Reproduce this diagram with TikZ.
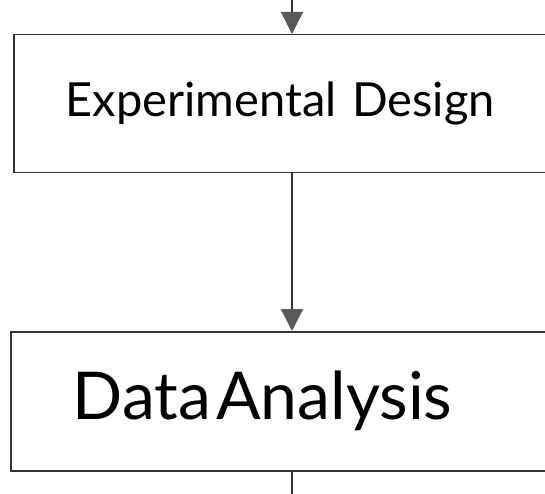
\documentclass[tikz,border=0pt]{standalone}
\usepackage{fontspec}
\setmainfont{Lato}[WordSpace=0.6]
\usepackage{tikz}
\usetikzlibrary{arrows.meta}

\tikzset{
  stagebox/.style={draw=black!80, line width=1.5pt, fill=white, anchor=north west, align=left},
  flow/.style={draw=black!80, line width=1.5pt, -{Triangle[width=22pt,length=22pt,color=black!65,fill=black!65]}}
}

\begin{document}
\begin{tikzpicture}[x=1pt,y=-1pt]
  \useasboundingbox (0,0) rectangle (545,494);
  \clip (0,0) rectangle (545,494);

  % Experimental design
  \node[stagebox, minimum height=138pt, text width=463pt, inner xsep=52pt,
        font=\fontsize{47}{52}\selectfont] (design) at (13,34) {Experimental Design};

  % Data analysis
  \node[stagebox, minimum height=139pt, text width=446pt, inner xsep=62pt,
        font=\fontsize{66}{72}\selectfont] (analysis) at (10,331) {Data\hspace{0.08em}Analysis};

  % Connectors
  \coordinate (in) at (292,0);
  \coordinate (out) at (292,494);
  \draw[flow] (in) -- (in |- design.north);
  \draw[flow] (in |- design.south) -- (in |- analysis.north);
  \draw[draw=black!80, line width=1.5pt] (in |- analysis.south) -- (out);
\end{tikzpicture}
\end{document}
